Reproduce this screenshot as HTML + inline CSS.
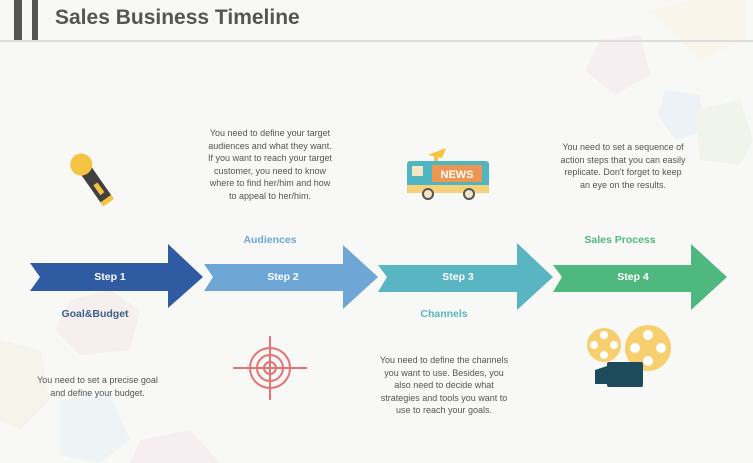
<!DOCTYPE html>
<html><head><meta charset="utf-8"><style>
body{margin:0;width:753px;height:463px;overflow:hidden;background:#f8f8f6;font-family:"Liberation Sans",sans-serif;position:relative}
.t{position:absolute;font-size:9px;color:#555;text-align:center;line-height:12.5px;white-space:nowrap}
.l{position:absolute;font-size:10.5px;font-weight:bold;text-align:center}
</style></head><body>
<svg width="753" height="463" style="position:absolute;left:0;top:0">
<g opacity="0.35">
<polygon points="600,40 640,35 650,75 615,95 585,70" fill="#f3dce6"/>
<polygon points="665,90 700,95 705,130 675,140 658,115" fill="#d6e8f5"/>
<polygon points="695,110 740,100 753,140 740,165 700,160" fill="#e4efd9"/>
<polygon points="650,10 690,0 745,0 745,40 700,60" fill="#fbf2d5"/>
<polygon points="70,300 110,290 140,310 130,350 80,355 55,330" fill="#f0e0e0"/>
<polygon points="0,340 40,350 50,400 20,430 0,420" fill="#eeeed8"/>
<polygon points="60,400 110,395 130,440 100,463 60,455" fill="#dcebf5"/>
<polygon points="140,440 190,430 220,463 130,463" fill="#f5dde5"/>
</g>
<rect x="14" y="0" width="8" height="41" fill="#555"/>
<rect x="32" y="0" width="6" height="41" fill="#555"/>
<rect x="0" y="40" width="753" height="2" fill="#ddd"/>
<polygon points="30,263 168,263 168,244 203,277 168,308 168,291 30,291 40,277" fill="#2e5ba1"/>
<polygon points="204,264 343,264 343,245 378,277 343,309 343,291 204,291 213,277" fill="#6ea6d6"/>
<polygon points="378,265 517,265 517,243 553,277 517,310 517,292 378,292 387,277" fill="#5ab5c3"/>
<polygon points="553,265 691,265 691,244 727,277 691,310 691,292 553,292 562,277" fill="#4fb87f"/>
<g transform="rotate(-35 83 167)">
<rect x="77" y="170" width="13" height="40" rx="2" fill="#404040"/>
<rect x="81" y="188" width="5" height="12" fill="#f5c342"/>
<rect x="77" y="206" width="13" height="5" fill="#f5c342"/>
<circle cx="83" cy="164" r="11" fill="#f5c342"/>
</g>
<polygon points="428,155 446,148 442,158" fill="#f5c342"/>
<rect x="434" y="155" width="4" height="7" fill="#f5c342"/>
<rect x="407" y="161" width="82" height="28" rx="3" fill="#4fb5c0"/>
<rect x="407" y="185" width="82" height="8" fill="#f5d27a"/>
<rect x="412" y="166" width="11" height="10" fill="#f3e6c8"/>
<rect x="432" y="165" width="50" height="17" fill="#ed9651"/>
<text x="457" y="178" font-family="Liberation Sans,sans-serif" font-weight="bold" font-size="11" fill="#fff" text-anchor="middle">NEWS</text>
<circle cx="428" cy="194" r="5" fill="#f3e6c8" stroke="#555" stroke-width="2"/>
<circle cx="469" cy="194" r="5" fill="#f3e6c8" stroke="#555" stroke-width="2"/>
<g fill="none" stroke="#e57373" stroke-width="2">
<circle cx="270" cy="368" r="20"/><circle cx="270" cy="368" r="13"/><circle cx="270" cy="368" r="6"/>
<line x1="233" y1="368" x2="307" y2="368"/><line x1="270" y1="336" x2="270" y2="400"/>
</g>
<circle cx="604" cy="345" r="17" fill="#f7cf6f"/>
<circle cx="648" cy="348" r="23" fill="#f7cf6f"/>
<g fill="#fff"><circle cx="604" cy="335" r="4"/><circle cx="604" cy="355" r="4"/><circle cx="594" cy="345" r="4"/><circle cx="614" cy="345" r="4"/>
<circle cx="648" cy="335" r="5"/><circle cx="648" cy="361" r="5"/><circle cx="635" cy="348" r="5"/><circle cx="661" cy="348" r="5"/></g>
<rect x="607" y="362" width="36" height="25" rx="2" fill="#1e4a5e"/>
<polygon points="595,370 607,366 607,384 595,384" fill="#1e4a5e"/>
</svg>
<div style="position:absolute;left:55px;top:6px;font-size:21px;font-weight:bold;color:#555">Sales Business Timeline</div>
<div class="l" style="left:70px;top:271px;width:80px;color:#fff">Step 1</div>
<div class="l" style="left:243px;top:271px;width:80px;color:#fff">Step 2</div>
<div class="l" style="left:418px;top:271px;width:80px;color:#fff">Step 3</div>
<div class="l" style="left:593px;top:271px;width:80px;color:#fff">Step 4</div>
<div class="l" style="left:40px;top:308px;width:110px;color:#3a5f8a">Goal&amp;Budget</div>
<div class="l" style="left:220px;top:234px;width:100px;color:#6ea6d6">Audiences</div>
<div class="l" style="left:394px;top:308px;width:100px;color:#5ab5c3">Channels</div>
<div class="l" style="left:570px;top:234px;width:100px;color:#4fb87f">Sales Process</div>
<div class="t" style="left:195px;top:127px;width:150px">You need to define your target<br>audiences and what they want.<br>If you want to reach your target<br>customer, you need to know<br>where to find her/him and how<br>to appeal to her/him.</div>
<div class="t" style="left:553px;top:141px;width:140px">You need to set a sequence of<br>action steps that you can easily<br>replicate. Don't forget to keep<br>an eye on the results.</div>
<div class="t" style="left:30px;top:374px;width:135px">You need to set a precise goal<br>and define your budget.</div>
<div class="t" style="left:374px;top:354px;width:140px">You need to define the channels<br>you want to use. Besides, you<br>also need to decide what<br>strategies and tools you want to<br>use to reach your goals.</div>
</body></html>
